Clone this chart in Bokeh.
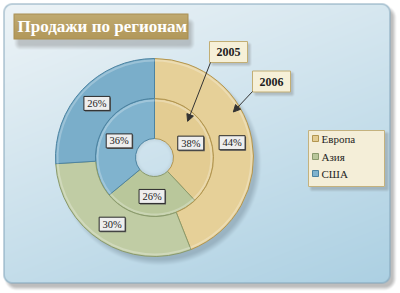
import numpy as np
from bokeh.plotting import figure
from bokeh.models import Range1d, Arrow, NormalHead, ColumnDataSource
from bokeh.core.properties import value
from bokeh.embed import file_html
from bokeh.resources import INLINE

# ---------------- data ----------------
title = "Продажи по регионам"
categories = ["Европа", "Азия", "США"]
years = ["2005", "2006"]
share_2005 = [38, 26, 36]
share_2006 = [44, 30, 26]
colors_inner = ["#E3CC92", "#B9C79B", "#80B3CE"]
colors_outer = ["#E6D098", "#C0CCA4", "#7AAECA"]
edge_colors = ["#B39650", "#8A9A6C", "#4C83A1"]

W, H = 400, 293
FONT = value("Liberation Serif")


def Y(y):
    return H - y


CX, CY = 154, Y(157)
R_HOLE, R_MID, R_OUT = 19, 59, 99

p = figure(width=W, height=H, x_range=Range1d(0, W), y_range=Range1d(0, H),
           output_backend="svg", toolbar_location=None, min_border=0)
p.axis.visible = False
p.grid.visible = False
p.outline_line_color = None
p.background_fill_color = "white"
p.border_fill_color = "white"

# ---------------- background image (panel, shadows, title box) ----------------
yy, xx = np.mgrid[0:H, 0:W].astype(float) + 0.5


def sd_rrect(x0, y0, x1, y1, r):
    cx = np.clip(xx, x0 + r, x1 - r)
    cy = np.clip(yy, y0 + r, y1 - r)
    return np.hypot(xx - cx, yy - cy) - r


def over(img, color, alpha):
    a = np.clip(alpha, 0, 1)[..., None]
    col = np.array(color, dtype=float)
    if col.ndim == 1:
        col = col[None, None, :]
    return img * (1 - a) + col * a


img = np.full((H, W, 3), 255.0)
# panel shadow
d = sd_rrect(6, 7, 394, 288, 10)
img = over(img, (110, 110, 110), 0.45 * np.clip(0.5 - d / 4, 0, 1))
# panel with gradient
d = sd_rrect(3, 3, 390, 283, 9)
t = np.clip(0.35 * xx / W + 0.65 * yy / H, 0, 1)
c1 = np.array([238, 244, 247.0])
c2 = np.array([170, 207, 226.0])
grad = c1[None, None, :] * (1 - t[..., None]) + c2[None, None, :] * t[..., None]
cov = np.clip(0.5 - d, 0, 1)[..., None]
img = img * (1 - cov) + grad * cov
img = over(img, (125, 160, 182), 0.9 * np.clip(1 - np.abs(d + 0.5), 0, 1))
# doughnut shadow (outside the ring only)
dc = np.hypot(xx - (CX + 5), yy - (157 + 6)) - R_OUT
outside = np.clip(np.hypot(xx - CX, yy - 157) - (R_OUT - 2), 0, 1)
img = over(img, (90, 110, 125), 0.35 * np.clip(0.5 - dc / 6, 0, 1) * outside)
# faint shading inside the hole
dh = np.hypot(xx - CX, yy - 157) - R_HOLE
img = over(img, (150, 170, 180), 0.25 * np.clip(1 - np.abs(dh) / 4, 0, 1))
# title shadow
d = sd_rrect(16, 20, 192, 47, 4)
img = over(img, (110, 110, 110), 0.35 * np.clip(0.5 - d / 5, 0, 1))
# title box gradient
d = sd_rrect(13, 13, 188, 39, 1)
tv = np.clip((yy - 13) / 26, 0, 1)[..., None]
tg = np.array([216, 199, 145.0])[None, None, :] * (1 - tv) + np.array([188, 162, 98.0])[None, None, :] * tv
cov = np.clip(0.5 - d, 0, 1)[..., None]
img = img * (1 - cov) + tg * cov
img = over(img, (168, 142, 82), np.clip(1 - np.abs(d + 0.5), 0, 1))
# callout + legend shadows
for (x0, y0, x1, y1) in [(211, 43, 250, 65), (254, 72, 293, 95), (310, 132, 388, 190)]:
    d = sd_rrect(x0, y0, x1, y1, 2)
    img = over(img, (100, 100, 100), 0.3 * np.clip(0.5 - d / 3, 0, 1))

rgba = np.dstack([np.clip(img, 0, 255).astype(np.uint8), np.full((H, W), 255, np.uint8)])
u32 = np.ascontiguousarray(rgba[::-1]).view(dtype=np.uint32).reshape(H, W)
p.image_rgba(image=[u32], x=0, y=0, dw=W, dh=H)

p.text(x=[17], y=[Y(26)], text=[title], text_font=FONT, text_font_style="bold",
       text_font_size="17px", text_color="white", text_baseline="middle", text_align="left")


# ---------------- doughnut ----------------
def ring(values, r0, r1, fills):
    tot = float(sum(values))
    cum = np.cumsum([0] + list(values)) / tot
    start = np.pi / 2 - cum[:-1] * 2 * np.pi
    end = np.pi / 2 - cum[1:] * 2 * np.pi
    mid = (start + end) / 2
    rm = (r0 + r1) / 2
    lx = CX + rm * np.cos(mid)
    ly = CY + rm * np.sin(mid)
    src = ColumnDataSource(dict(start=start, end=end, fill=fills, edge=edge_colors,
                                lx=lx, ly=ly, sx=lx + 1, sy=ly - 1,
                                label=[f"{v}%" for v in values]))
    p.annular_wedge(x=CX, y=CY, inner_radius=r0, outer_radius=r1, start_angle="start",
                    end_angle="end", direction="clock", fill_color="fill",
                    line_color="edge", line_width=1, source=src)
    p.annular_wedge(x=CX, y=CY, inner_radius=r1 - 3, outer_radius=r1 - 1, start_angle="start",
                    end_angle="end", direction="clock", fill_color="white", fill_alpha=0.25,
                    line_color=None, source=src)
    return src


src_in = ring(share_2005, R_HOLE, R_MID, colors_inner)
src_out = ring(share_2006, R_MID, R_OUT, colors_outer)

for src in (src_in, src_out):
    p.rect(x="sx", y="sy", width=26, height=14, fill_color="#5a5a5a", line_color=None, source=src)
    p.rect(x="lx", y="ly", width=26, height=14, fill_color="#EEEEEE", line_color="#2a2a2a",
           line_width=1, source=src)
    p.text(x="lx", y="ly", text="label", text_font=FONT, text_font_size="10.5px",
           text_color="#222222", text_align="center", text_baseline="middle", source=src)

# ---------------- callouts ----------------
call_x = [228, 271]
call_y = [Y(51.5), Y(81)]
p.rect(x=call_x, y=call_y, width=38, height=21, fill_color="#F6F0D8", line_color="#C2AE74", line_width=1)
p.text(x=call_x, y=call_y, text=years, text_font=FONT, text_font_style="bold", text_font_size="12px",
       text_color="#1e1e1e", text_align="center", text_baseline="middle")

# arrow tips: polar positions inside Europe segments
tips = [(42.5, 49), (60.0, 91)]
starts = [(210, Y(62)), (252, Y(91))]
for (ang, r), (sx, sy) in zip(tips, starts):
    a = np.radians(ang)
    tx, ty = CX + r * np.sin(a), CY + r * np.cos(a)
    p.add_layout(Arrow(end=NormalHead(size=7, fill_color="#333333", line_color="#333333"),
                       x_start=sx, y_start=sy, x_end=tx, y_end=ty,
                       line_color="#333333", line_width=1))

# ---------------- legend ----------------
p.rect(x=[346], y=[Y(158)], width=76, height=56, fill_color="#F4EED8", line_color="#C4B27E", line_width=1)
leg_y = [Y(138), Y(156), Y(173)]
p.rect(x=[315] * 3, y=leg_y, width=6, height=6, fill_color=colors_inner, line_color=edge_colors, line_width=1)
p.text(x=[321] * 3, y=leg_y, text=categories, text_font=FONT, text_font_size="11px",
       text_color="#1e1e1e", text_align="left", text_baseline="middle")

open("out.html", "w").write(file_html(p, INLINE))
